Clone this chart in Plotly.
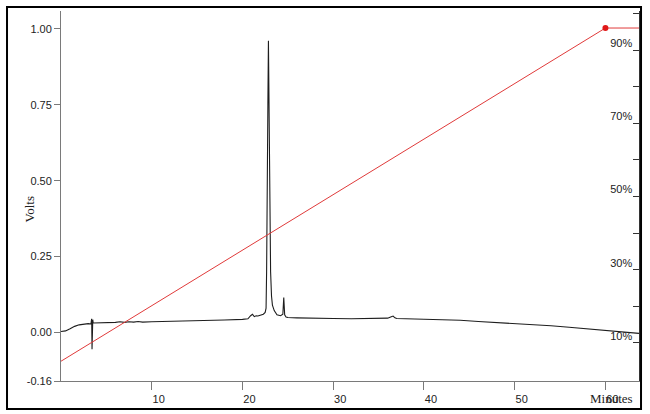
import plotly.graph_objects as go

# ---- chromatogram (Volts vs Minutes) ----
time_min = [0.0, 0.5, 1.0, 1.5, 2.0, 2.5, 3.0, 3.3, 3.38, 3.42, 3.46, 3.5, 3.55, 3.7, 4.0,
            5.0, 6.0, 6.5, 7.0, 7.5, 8.0, 8.5, 9.0, 10.0, 12.0, 14.0, 16.0, 18.0, 20.0,
            20.6, 20.9, 21.1, 21.3, 21.5, 21.7, 22.0, 22.3, 22.5, 22.6, 22.66, 22.70,
            22.72, 22.74, 22.76, 22.78, 22.80, 22.86, 22.92, 22.98, 23.04, 23.10, 23.20,
            23.30, 23.50, 23.80, 24.2, 24.45, 24.55, 24.65, 24.8, 25.0, 26.0, 27.0, 28.0,
            30.0, 32.0, 34.0, 35.0, 36.0, 36.4, 36.6, 36.8, 37.0, 38.0, 40.0, 42.0,
            44.0, 46.0, 48.0, 50.0, 52.0, 54.0, 56.0, 58.0, 60.0, 62.0, 63.7]
volts = [0.003, 0.005, 0.012, 0.020, 0.025, 0.028, 0.029, 0.028, 0.045, -0.055, 0.030, 0.042,
         0.031, 0.031, 0.032, 0.033, 0.033, 0.035, 0.033, 0.035, 0.034, 0.036, 0.034, 0.035,
         0.036, 0.038, 0.040, 0.041, 0.043, 0.045, 0.055, 0.060, 0.052, 0.055, 0.054, 0.056,
         0.060, 0.066, 0.08, 0.20, 0.45, 0.62, 0.48, 0.58, 0.53, 0.75, 0.961, 0.80, 0.55,
         0.30, 0.20, 0.12, 0.09, 0.072, 0.058, 0.055, 0.060, 0.115, 0.058, 0.051, 0.049,
         0.048, 0.048, 0.047, 0.046, 0.045, 0.045, 0.046, 0.047, 0.052, 0.054, 0.048,
         0.046, 0.045, 0.044, 0.043, 0.040, 0.036, 0.033, 0.030, 0.026, 0.022, 0.017,
         0.012, 0.007, 0.002, -0.003]

# ---- gradient program (percent B) ----
grad_time = [0.0, 60.0, 63.7]
grad_pct = [5.0, 96.0, 96.0]
grad_marker_time = [60.0]
grad_marker_pct = [96.0]

# ---- tick labels ----
x_tickvals = [10, 20, 30, 40, 50, 60]
x_ticktext = ["10", "20", "30", "40", "50", "60"]
y_tickvals = [-0.16, 0.0, 0.25, 0.5, 0.75, 1.0]
y_ticktext = ["-0.16", "0.00", "0.25", "0.50", "0.75", "1.00"]
y2_tickvals = [10, 20, 30, 40, 50, 60, 70, 80, 90, 100]
y2_ticktext = ["10%", "", "30%", "", "50%", "", "70%", "", "90%", ""]

fig = go.Figure()
fig.add_trace(go.Scatter(x=time_min, y=volts, mode="lines",
                         line=dict(color="#1e1e1e", width=1.1), showlegend=False))
fig.add_trace(go.Scatter(x=grad_time, y=grad_pct, mode="lines", yaxis="y2",
                         line=dict(color="#e03a3a", width=1), showlegend=False))
fig.add_trace(go.Scatter(x=grad_marker_time, y=grad_marker_pct, mode="markers", yaxis="y2",
                         marker=dict(color="#e01818", size=6), showlegend=False))

tickfont = dict(family="Liberation Sans, Arial, sans-serif", size=11, color="#222")
axcol = "#7a7a7a"

fig.update_layout(
    width=650, height=414,
    margin=dict(l=61, r=11, t=11, b=33),
    paper_bgcolor="white", plot_bgcolor="white",
    xaxis=dict(range=[0, 63.7], tickvals=x_tickvals, ticktext=x_ticktext, automargin=False,
               showgrid=False, zeroline=False, showline=True, linecolor=axcol, linewidth=1,
               ticks="outside", ticklen=8, tickcolor=axcol, tickfont=tickfont,
               ticklabelshift=7),
    yaxis=dict(range=[-0.16, 1.059], tickvals=y_tickvals, ticktext=y_ticktext, automargin=False,
               showgrid=False, zeroline=False, showline=True, linecolor=axcol, linewidth=1,
               ticks="outside", ticklen=6, tickcolor=axcol, tickfont=tickfont),
    yaxis2=dict(range=[-0.4, 100.65], overlaying="y", side="right", automargin=False,
                tickvals=y2_tickvals, ticktext=y2_ticktext,
                showgrid=False, zeroline=False, showline=True, linecolor="#333", linewidth=1,
                ticks="inside", ticklen=6, tickcolor="#333", tickfont=tickfont,
                ticklabelposition="inside", ticklabelshift=-7, ticklabelstandoff=0),
    shapes=[dict(type="rect", xref="paper", yref="paper",
                 x0=-0.0934, x1=1.0035, y0=-0.0757, y1=1.0108,
                 line=dict(color="black", width=2), fillcolor="rgba(0,0,0,0)")],
    annotations=[
        dict(text="Volts", xref="paper", yref="paper", x=-0.0709, y=0.465,
             textangle=-90, showarrow=False,
             font=dict(family="Liberation Serif, Times New Roman, serif", size=13, color="#222")),
        dict(text="Minutes", xref="paper", yref="paper", x=0.993, y=-0.046,
             xanchor="right", yanchor="middle", showarrow=False,
             font=dict(family="Liberation Serif, Times New Roman, serif", size=13, color="#222")),
    ],
)

fig.write_html("out.html", config={"displayModeBar": False},
               post_script="document.body.style.margin='0';document.body.style.overflow='hidden';")
